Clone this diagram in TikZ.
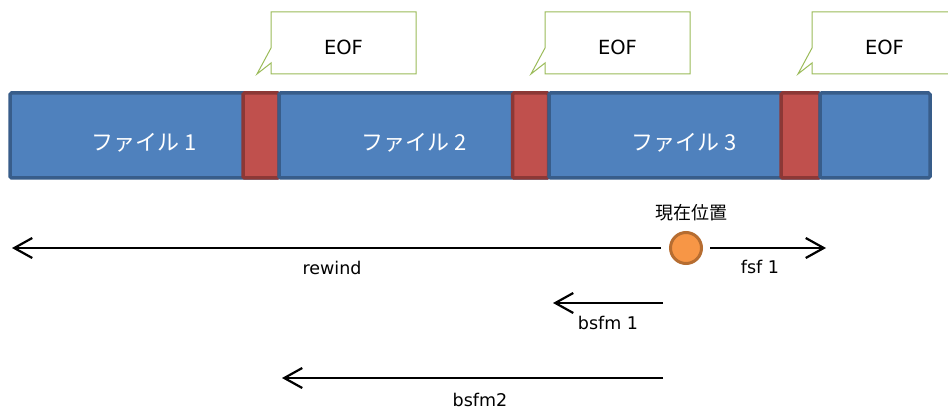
\documentclass[tikz,border=0pt]{standalone}
\usepackage{fontspec}
\setmainfont{DejaVu Sans}
\newfontfamily\jp{Noto Sans CJK JP}
\usetikzlibrary{arrows.meta}
\definecolor{fblue}{HTML}{4F81BD}
\definecolor{dblue}{HTML}{385D8A}
\definecolor{fred}{HTML}{C0504D}
\definecolor{dred}{HTML}{8C3836}
\definecolor{forange}{HTML}{F79646}
\definecolor{dorange}{HTML}{B66D31}
\definecolor{cgreen}{HTML}{9BBB59}
\tikzset{
  filebox/.style={draw=dblue, fill=fblue, line width=3.5pt, rounded corners=1.5pt, minimum height=85pt, inner sep=0pt},
  eofbox/.style={draw=dred, fill=fred, line width=3.5pt, rounded corners=1.5pt, minimum height=85pt, minimum width=36pt, inner sep=0pt},
  filelabel/.style={text=white, font=\jp\fontsize{22}{24}\selectfont, anchor=base, inner sep=0pt},
  callout/.style={draw=cgreen, fill=white, line width=1pt},
  eoftext/.style={font=\fontsize{19.5}{21}\selectfont, anchor=base, inner sep=0pt},
  lbl/.style={font=\fontsize{17.5}{19}\selectfont, anchor=base, inner sep=0pt},
  arr/.style={line width=2.2pt, -{Straight Barb[length=18pt,width=20pt]}},
  cur/.style={circle, draw=dorange, fill=forange, line width=3pt, minimum size=31pt, inner sep=0pt},
}
\begin{document}
\begin{tikzpicture}[x=1pt, y=-1pt]
\clip (0,0) rectangle (948,409);
\fill[white] (0,0) rectangle (948,409);

% callouts
\foreach \l/\n in {271/c1, 545/c2, 812/c3}{
  \draw[callout] (\l,12) -- ++(145,0) -- ++(0,62) -- ++(-145,0) -- ++(0,-11) -- ++(-14,11) -- ++(14,-26) -- cycle;
}
\node[eoftext] (e1) at (343.5,55) {EOF};
\node[eoftext] (e2) at (617.5,55) {EOF};
\node[eoftext] (e3) at (884.5,55) {EOF};

% tape
\node[filebox, minimum width=269pt] (f1) at (144.5,135.5) {};
\node[eofbox] (r1) at (261,135.5) {};
\node[filebox, minimum width=270pt] (f2) at (414,135.5) {};
\node[eofbox] (r2) at (530.5,135.5) {};
\node[filebox, minimum width=271pt] (f3) at (684.5,135.5) {};
\node[eofbox, minimum width=39pt] (r3) at (800.5,135.5) {};
\node[filebox, minimum width=110pt] (f4) at (875,135.5) {};
\node[filelabel] (l1) at (144.5,150) {ファイル 1};
\node[filelabel] (l2) at (414,150) {ファイル 2};
\node[filelabel] (l3) at (684.5,150) {ファイル 3};

% current position
\node[cur] (cur) at (686,248) {};
\node[font=\jp\fontsize{18}{20}\selectfont, anchor=base, inner sep=0pt] (curl) at (691,219) {現在位置};

\coordinate (rwend) at (12,248);
\coordinate (fsfend) at (826,248);
\coordinate (b1s) at (663,303);
\coordinate (b1e) at (553,303);
\coordinate (b2s) at (663,378);
\coordinate (b2e) at (282,378);

\draw[arr] ([xshift=-8pt]cur.west) -- (rwend);
\draw[arr] ([xshift=7pt]cur.east) -- (fsfend);
\draw[arr] (b1s) -- (b1e);
\draw[arr] (b2s) -- (b2e);

\node[lbl] (rw) at (332,274) {rewind};
\node[lbl] (fsf) at (760,273) {fsf 1};
\node[lbl] (bs1) at (608,329) {bsfm 1};
\node[lbl] (bs2) at (480,406) {bsfm2};
\end{tikzpicture}
\end{document}
